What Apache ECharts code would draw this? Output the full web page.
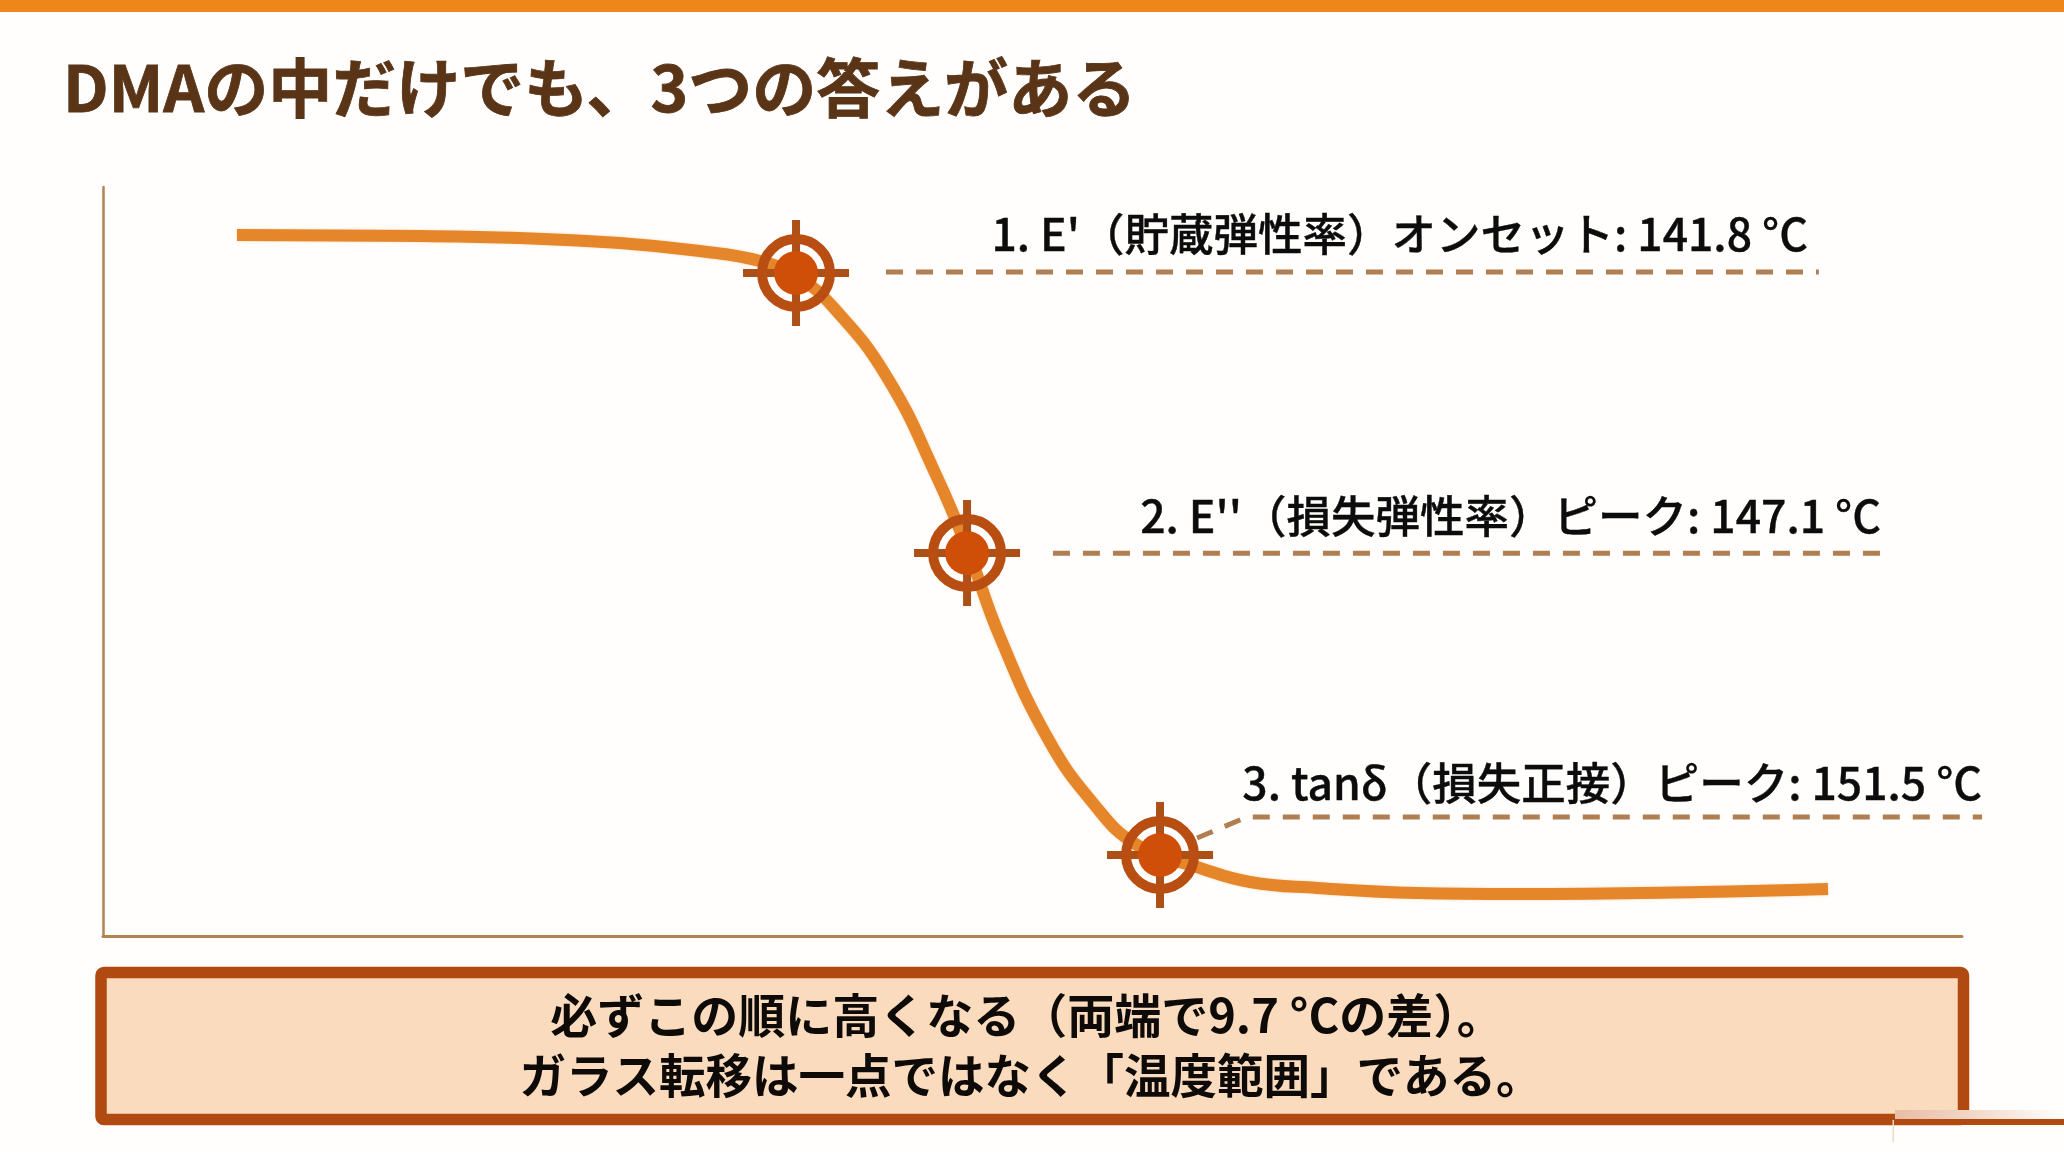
<!DOCTYPE html>
<html><head><meta charset="utf-8">
<style>html,body{margin:0;padding:0;background:#fffefd}#c{width:2064px;height:1152px}</style>
<script src="https://cdn.jsdelivr.net/npm/echarts@6/dist/echarts.min.js"></script>
</head><body><div id="c"></div>
<script>
const titleText = 'DMAの中だけでも、3つの答えがある';
const curveX = [7.21,17.05,22.43,27.81,32.11,35.34,37.28,39.27,42.17,44.86,46.58,48.25,50.78,53.25,55.62,59.01,61.70,65.30,70.68,76.06,85.91,92.79];
const curveY = [93.59,93.46,93.19,92.52,91.45,90.12,88.12,83.98,74.63,61.28,51.13,39.92,26.57,17.76,12.15,9.08,7.21,6.41,5.74,5.61,5.87,6.28];
const targetX = [37.28,46.48,56.86];
const targetY = [88.52,51.13,10.81];
const leader1 = [[42.12,88.65],[92.3,88.65]];
const leader2 = [[51.1,51.1],[96.1,51.1]];
const leader3 = [[58.85,13.08],[61.54,15.89],[101.08,15.89]];
const labelTexts = ["1. E'（貯蔵弾性率）オンセット: 141.8 °C","2. E''（損失弾性率）ピーク: 147.1 °C","3. tanδ（損失正接）ピーク: 151.5 °C"];
const labelX = [91.71,95.64,101.08];
const labelY = [93.72,56.07,20.43];
const noteLines = ['必ずこの順に高くなる（両端で9.7 °Cの差）。','ガラス転移は一点ではなく「温度範囲」である。'];

const FONT = '"Noto Sans CJK JP","Noto Sans",sans-serif';
const zip = (a,b)=>a.map((v,i)=>[v,b[i]]);
const leaderSeries = d => ({type:'custom',coordinateSystem:'cartesian2d',data:d,clip:false,silent:true,z:2,
  renderItem:(p,api)=> p.dataIndex!==0 ? null : ({type:'polyline',
    shape:{points:d.map(q=>api.coord(q))},
    style:{fill:'none',stroke:'#a9703f',opacity:.9,lineWidth:5,lineDash:[17,13]}})});

const chart = echarts.init(document.getElementById('c'),null,{renderer:'canvas'});
chart.setOption({
  animation:false,
  backgroundColor:'#fffefd',
  title:{text:titleText,left:58,top:51,textStyle:{fontFamily:FONT,fontSize:64,fontWeight:700,color:'#5a3417',textBorderColor:'#5a3417',textBorderWidth:.8}},
  grid:{left:103,right:102,top:187,bottom:216},
  xAxis:{type:'value',min:0,max:100,axisTick:{show:false},axisLabel:{show:false},splitLine:{show:false},
    axisLine:{show:true,lineStyle:{color:'#b5824f',width:3}}},
  yAxis:{type:'value',min:0,max:100,axisTick:{show:false},axisLabel:{show:false},splitLine:{show:false},
    axisLine:{show:true,lineStyle:{color:'#b5824f',width:2.5}}},
  graphic:[
    {type:'rect',shape:{x:0,y:0,width:2064,height:12},style:{fill:'#ee8619'},z:10},
    {type:'rect',shape:{x:101,y:972.5,width:1862.5,height:147,r:3},style:{fill:'#fadbbe',stroke:'#b14a10',lineWidth:11.5},z:10},
    {type:'text',style:{text:noteLines[0],x:1027,y:1015,align:'center',verticalAlign:'middle',fontFamily:FONT,fontSize:47,fontWeight:700,fill:'#0d0a08'},z:11},
    {type:'text',style:{text:noteLines[1],x:1031,y:1075,align:'center',verticalAlign:'middle',fontFamily:FONT,fontSize:46.5,fontWeight:700,fill:'#0d0a08'},z:11},
    {type:'rect',shape:{x:1895,y:1110,width:170,height:9},z:12,style:{fill:new echarts.graphic.LinearGradient(0,0,1,0,[{offset:0,color:'#e9bca4'},{offset:.45,color:'#f0d8c8'},{offset:.9,color:'#fdf8f4'},{offset:1,color:'#fffefd'}])}},
    {type:'rect',shape:{x:1895,y:1119,width:169,height:6},style:{fill:'#b14a10'},z:12},
    {type:'rect',shape:{x:1892.5,y:1120,width:1.5,height:22},style:{fill:'#ecd9c8'},z:12}
  ],
  series:[
    {type:'line',name:'curve',data:zip(curveX,curveY),symbol:'none',smooth:.45,silent:true,z:3,
      lineStyle:{color:'#e5862b',width:12,cap:'butt',shadowColor:'rgba(240,150,60,.35)',shadowBlur:3}},
    leaderSeries(leader1),leaderSeries(leader2),leaderSeries(leader3),
    {type:'custom',name:'targets',coordinateSystem:'cartesian2d',data:zip(targetX,targetY),silent:true,z:5,clip:false,
      renderItem:(p,api)=>{
        const [x,y]=api.coord([api.value(0),api.value(1)]);
        const crossStyle={fill:'#ad5018'};
        return {type:'group',children:[
          {type:'rect',shape:{x:x-53,y:y-4,width:106,height:8},style:crossStyle},
          {type:'rect',shape:{x:x-4,y:y-53,width:8,height:106},style:crossStyle},
          {type:'circle',shape:{cx:x,cy:y,r:34},style:{fill:'none',stroke:'#b84e12',lineWidth:10}},
          {type:'circle',shape:{cx:x,cy:y,r:22},style:{fill:'#d04f08'}}
        ]};
      }},
    {type:'scatter',name:'labels',data:labelX.map((v,i)=>({value:[v,labelY[i]],label:{formatter:labelTexts[i]}})),
      symbolSize:0,clip:false,silent:true,z:6,itemStyle:{opacity:1},
      label:{show:true,position:'left',distance:0,fontFamily:FONT,fontSize:44.5,fontWeight:500,color:'#0c0c0c',textBorderColor:'#0c0c0c',textBorderWidth:.4}}
  ]
});
</script></body></html>
